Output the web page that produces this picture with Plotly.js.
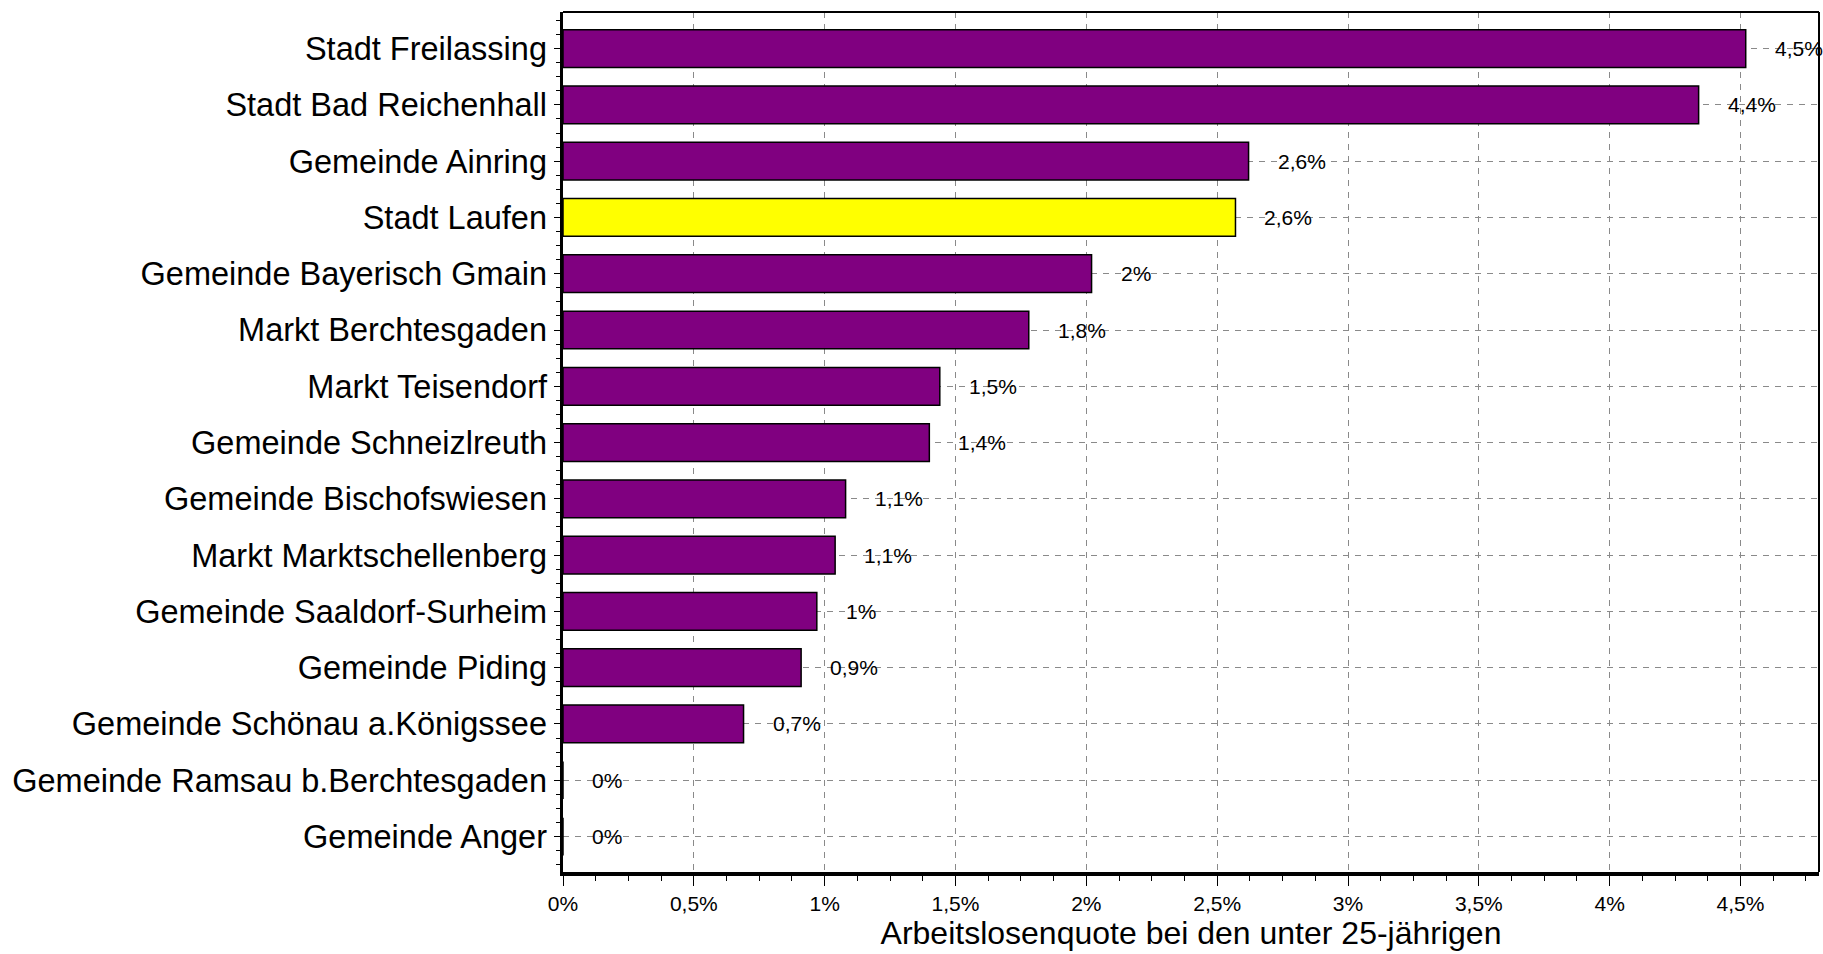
<!DOCTYPE html>
<html>
<head>
<meta charset="utf-8">
<script src="https://cdn.plot.ly/plotly-3.0.1.min.js"></script>
<style>html,body{margin:0;padding:0;background:#fff;}#chart{width:1823px;height:954px;}</style>
</head>
<body>
<div id="chart"></div>
<script>
const categories = [
  "Stadt Freilassing",
  "Stadt Bad Reichenhall",
  "Gemeinde Ainring",
  "Stadt Laufen",
  "Gemeinde Bayerisch Gmain",
  "Markt Berchtesgaden",
  "Markt Teisendorf",
  "Gemeinde Schneizlreuth",
  "Gemeinde Bischofswiesen",
  "Markt Marktschellenberg",
  "Gemeinde Saaldorf-Surheim",
  "Gemeinde Piding",
  "Gemeinde Schönau a.Königssee",
  "Gemeinde Ramsau b.Berchtesgaden",
  "Gemeinde Anger"
];
const values = [4.52, 4.34, 2.62, 2.57, 2.02, 1.78, 1.44, 1.40, 1.08, 1.04, 0.97, 0.91, 0.69, 0, 0];
const valueLabels = ["4,5%", "4,4%", "2,6%", "2,6%", "2%", "1,8%", "1,5%", "1,4%", "1,1%", "1,1%", "1%", "0,9%", "0,7%", "0%", "0%"];
const highlighted = "Stadt Laufen";
const xTickValues = [0, 0.5, 1, 1.5, 2, 2.5, 3, 3.5, 4, 4.5];
const xTickLabels = ["0%", "0,5%", "1%", "1,5%", "2%", "2,5%", "3%", "3,5%", "4%", "4,5%"];
const xTitle = "Arbeitslosenquote bei den unter 25-jährigen";

const FONT = "Liberation Sans, Arial, sans-serif";
const positions = categories.map((c, i) => i);
const colors = categories.map(c => c === highlighted ? "#FFFF00" : "#800080");

const trace = {
  type: "bar",
  orientation: "h",
  x: values,
  y: positions,
  width: 0.67,
  marker: {color: colors, line: {color: "#000", width: 1.5}},
  hoverinfo: "skip"
};

const annotations = values.map((v, i) => ({
  x: v, y: positions[i], xref: "x", yref: "y",
  text: valueLabels[i], showarrow: false,
  xanchor: "left", yanchor: "middle", xshift: 27,
  font: {family: FONT, size: 21, color: "#000"}
}));

const gridColor = "#8a8a8a";
const layout = {
  width: 1823, height: 954,
  margin: {l: 563, r: 4, t: 12, b: 82},
  paper_bgcolor: "#fff", plot_bgcolor: "#fff",
  showlegend: false,
  font: {family: FONT, color: "#000"},
  xaxis: {
    range: [0, 4.8],
    tickmode: "array", tickvals: xTickValues, ticktext: xTickLabels,
    ticks: "outside", ticklen: 10, tickwidth: 1, tickcolor: "#000",
    tickfont: {family: FONT, size: 21, color: "#000"},
    showgrid: true, gridcolor: gridColor, gridwidth: 1, griddash: "6px,6px",
    showline: true, linecolor: "#000", linewidth: 3.5, mirror: false,
    zeroline: false,
    minor: {tickmode: "linear", tick0: 0, dtick: 0.125, ticks: "outside", ticklen: 5, tickcolor: "#000", tickwidth: 1, showgrid: false},
    title: {text: xTitle, font: {family: FONT, size: 32, color: "#000"}, standoff: 4},
    automargin: false,
    fixedrange: true
  },
  yaxis: {
    range: [14.63, -0.65],
    tickmode: "array", tickvals: positions, ticktext: categories,
    ticks: "outside", ticklen: 6, tickwidth: 1, tickcolor: "#000",
    tickfont: {family: FONT, size: 32.5, color: "#000"},
    ticklabelstandoff: 0,
    showgrid: true, gridcolor: gridColor, gridwidth: 1, griddash: "6px,6px",
    showline: true, linecolor: "#000", linewidth: 3.5, mirror: false,
    zeroline: false,
    minor: {tickmode: "linear", tick0: 0, dtick: 0.25, ticks: "outside", ticklen: 4, tickcolor: "#000", tickwidth: 1, showgrid: false},
    automargin: false,
    fixedrange: true
  },
  shapes: [
    {type: "line", xref: "paper", yref: "paper", x0: 0, x1: 1, y0: 1, y1: 1, line: {color: "#000", width: 2}},
    {type: "line", xref: "paper", yref: "paper", x0: 1, x1: 1, y0: 0, y1: 1, line: {color: "#000", width: 2}}
  ],
  annotations: annotations
};

Plotly.newPlot("chart", [trace], layout, {displayModeBar: false, staticPlot: true});
</script>
</body>
</html>
